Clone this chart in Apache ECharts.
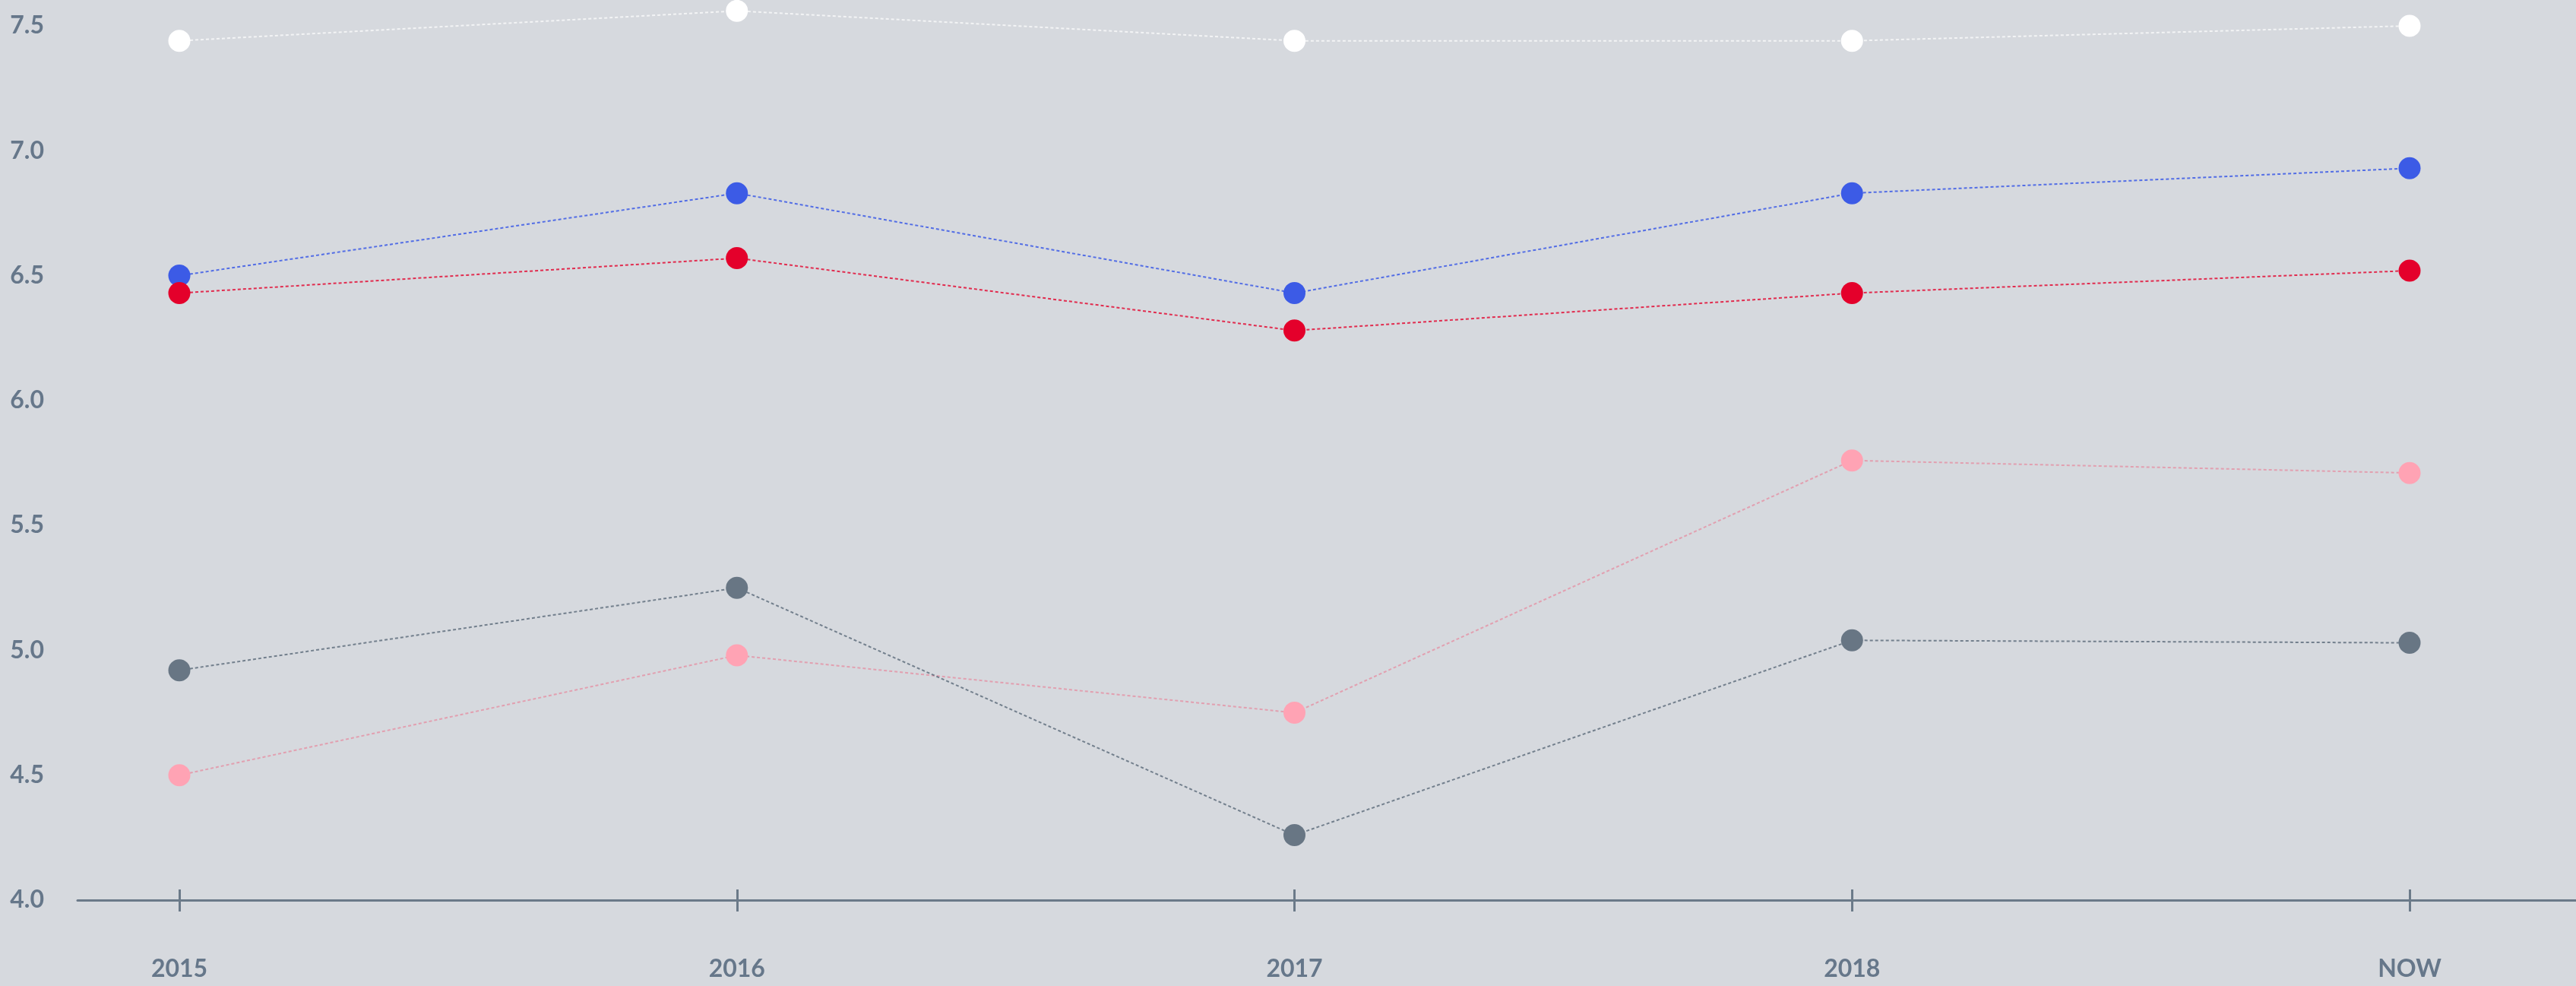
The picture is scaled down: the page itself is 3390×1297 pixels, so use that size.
<!DOCTYPE html>
<html>
<head>
<meta charset="utf-8">
<style>
  html, body { margin: 0; padding: 0; background: #d6d9de; }
  #chart { width: 3390px; height: 1297px; }
</style>
<script src="https://cdn.jsdelivr.net/npm/echarts@6/dist/echarts.min.js"></script>
</head>
<body>
<div id="chart"></div>
<script>
const years = ['2015', '2016', '2017', '2018', 'NOW']
const whiteVals = [7.44, 7.56, 7.44, 7.44, 7.5]
const blueVals = [6.5, 6.83, 6.43, 6.83, 6.93]
const redVals = [6.43, 6.57, 6.28, 6.43, 6.52]
const pinkVals = [4.5, 4.98, 4.75, 5.76, 5.71]
const grayVals = [4.92, 5.25, 4.26, 5.04, 5.03]
const yMin = 4
const yMax = 7.5
const yStep = 0.5

const labelColor = '#66778a'
const font = 'Lato'

const chart = echarts.init(document.getElementById('chart'))

function makeSeries(name, values, color, lineColor) {
  return {
    name: name,
    type: 'line',
    xAxisIndex: 1,
    yAxisIndex: 1,
    data: values,
    clip: false,
    symbol: 'circle',
    symbolSize: 29,
    itemStyle: { color: color },
    lineStyle: { color: lineColor, width: 2, type: [4, 3] },
    emphasis: { disabled: true },
  }
}

const option = {
  backgroundColor: '#d6d9de',
  animation: false,
  grid: [
    // full-width grid only for the long axis line
    { left: 102, right: 0, top: 34, bottom: 113 },
    { left: 236, right: 219, top: 34, bottom: 113 },
  ],
  xAxis: [
    {
      gridIndex: 0,
      type: 'category',
      data: years,
      axisLine: { lineStyle: { color: '#6b7a89', width: 3 } },
      axisTick: { show: false },
      axisLabel: { show: false },
    },
    {
      gridIndex: 1,
      type: 'category',
      data: years,
      boundaryGap: false,
      offset: 15,
      axisLine: { show: false },
      axisTick: { inside: true, length: 29, lineStyle: { color: '#6b7a89', width: 3 } },
      axisLabel: {
        color: labelColor,
        fontFamily: font,
        fontWeight: 'bold',
        fontSize: 32,
        margin: 60,
      },
    },
  ],
  yAxis: [
    { gridIndex: 0, type: 'value', min: yMin, max: yMax, show: false },
    {
      gridIndex: 1,
      type: 'value',
      min: yMin,
      max: yMax,
      interval: yStep,
      axisLine: { show: false },
      axisTick: { show: false },
      splitLine: { show: false },
      axisLabel: {
        color: labelColor,
        fontFamily: font,
        fontWeight: 'bold',
        fontSize: 32,
        margin: 178,
        padding: [0, 0, 8, 0],
        formatter: (v) => v.toFixed(1),
      },
    },
  ],
  series: [
    makeSeries('white', whiteVals, '#ffffff', 'rgba(255,255,255,0.7)'),
    makeSeries('blue', blueVals, '#3c5be6', 'rgba(60,91,230,0.85)'),
    makeSeries('red', redVals, '#e4002b', 'rgba(228,0,43,0.8)'),
    makeSeries('pink', pinkVals, '#ffa3b4', 'rgba(230,140,160,0.75)'),
    makeSeries('gray', grayVals, '#687684', 'rgba(104,118,132,0.9)'),
  ],
}

chart.setOption(option)

window.addEventListener('resize', () => {
  chart.resize()
})
</script>
</body>
</html>
